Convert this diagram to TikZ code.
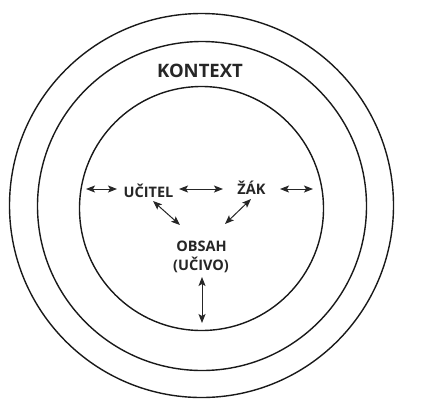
\documentclass[tikz,border=0pt]{standalone}
\usepackage{fontspec}
\setmainfont{Open Sans}
\usetikzlibrary{arrows.meta}
\begin{document}
\begin{tikzpicture}[x=1pt,y=-1pt,
  ring/.style={draw=black!90,line width=1.4pt},
  lbl/.style={font=\bfseries\fontsize{14.5}{16}\selectfont,text=black!85,inner sep=0pt,align=center},
  arr/.style={draw=black!85,line width=1pt,{Stealth[length=9pt,width=7pt,inset=2pt]}-{Stealth[length=9pt,width=7pt,inset=2pt]}}]
\useasboundingbox (0,0) rectangle (443,405);
\fill[white] (0,0) rectangle (443,405);
\draw[ring] (201.5,205.5) circle[radius=192];
\draw[ring] (202,206) circle[radius=164.5];
\draw[ring] (201.5,208.5) circle[radius=122];
\node[lbl,font=\bfseries\fontsize{18.5}{20}\selectfont] (kontext) at (200,71) {KONTEXT};
\node[lbl] (ucitel) at (148.5,190.5) {UČITEL};
\node[lbl,anchor=base] (zak) at (251.5,194) {ŽÁK};
\node[lbl,anchor=base] (obsah) at (201.5,251.5) {OBSAH};
\node[lbl,anchor=base] (ucivo) at (201,270.5) {(UČIVO)};
\coordinate (l1) at (86,189);
\coordinate (l2) at (117,189);
\coordinate (m1) at (179,189);
\coordinate (m2) at (223,189);
\coordinate (r1) at (280,189);
\coordinate (r2) at (313,189);
\coordinate (d1) at (153,201);
\coordinate (d2) at (180,225);
\coordinate (e1) at (251,199);
\coordinate (e2) at (225,224);
\coordinate (v1) at (202,277);
\coordinate (v2) at (202,323);
\draw[arr] (l1) -- (l2);
\draw[arr] (m1) -- (m2);
\draw[arr] (r1) -- (r2);
\draw[arr] (d1) -- (d2);
\draw[arr] (e1) -- (e2);
\draw[arr] (v1) -- (v2);
\end{tikzpicture}
\end{document}
